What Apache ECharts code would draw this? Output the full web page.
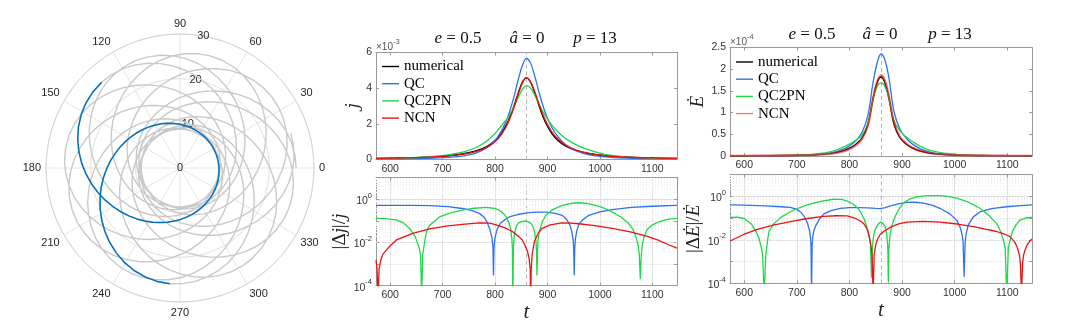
<!DOCTYPE html>
<html><head><meta charset="utf-8">
<script src="https://cdn.jsdelivr.net/npm/echarts@6/dist/echarts.min.js"></script>
<style>html,body{margin:0;padding:0;background:#fff}#c{width:1076px;height:333px}</style>
</head><body><div id="c"></div>
<script>
// ================= DATA =================
// Polar orbit: one radial period (apoapsis -> periapsis -> apoapsis); angle from the apoapsis (deg) and radius
const orbitLoopDphi = [0,6.37,12.75,19.14,25.53,31.93,38.35,44.79,51.25,57.73,64.24,70.77,77.34,83.94,90.58,97.25,103.96,110.71,117.50,
  124.34,131.22,138.14,145.10,152.11,159.16,166.25,173.38,180.55,187.75,194.99,202.26,209.55,216.86,224.19,231.54,238.89,246.25,
  253.61,260.96,268.31,275.64,282.95,290.24,297.51,304.75,311.95,319.12,326.25,333.34,340.39,347.40,354.36,361.28,368.16,375.00,
  381.79,388.54,395.25,401.92,408.56,415.16,421.73,428.26,434.77,441.25,447.71,454.15,460.57,466.97,473.36,479.75,486.13,492.50];
const orbitLoopR = [26.000,25.901,25.611,25.143,24.521,23.773,22.928,22.018,21.070,20.110,19.157,18.227,17.333,16.483,15.682,14.932,14.236,13.592,13.000,
  12.457,11.962,11.510,11.101,10.732,10.400,10.103,9.838,9.604,9.400,9.223,9.072,8.946,8.844,8.766,8.711,8.678,8.667,
  8.678,8.711,8.766,8.844,8.946,9.072,9.223,9.400,9.604,9.838,10.103,10.400,10.732,11.101,11.510,11.962,12.457,13.000,
  13.592,14.236,14.932,15.682,16.483,17.333,18.227,19.157,20.110,21.070,22.018,22.928,23.773,24.521,25.143,25.611,25.901,26.000];
// apoapsis angles of the successive radial periods (deg)
const orbitApoapsis = [0,132.5,265,37.5,170,302.5,75,207.5,340,112.5,245];
const highlightApoapsis = 132.5;
const angleTicks = [0,30,60,90,120,150,180,210,240,270,300,330];
const radiusTicks = [0,10,20,30];

// Time axis
const T_MIN = 573, T_MAX = 1147, T_PERI = 860;
const tTicks = [600,700,800,900,1000,1100];

// Top panels: fluxes
const tTop = [573,620,670,710,740,765,785,800,812,824,835,845,853,860,867,875,885,896,908,920,935,955,980,1010,1050,1100,1147];
// j-dot (x 1e-3)
const jNumerical = [0.060,0.085,0.134,0.211,0.322,0.493,0.743,1.064,1.47,2.09,2.91,3.80,4.38,4.58,4.38,3.80,2.91,2.09,1.47,1.064,0.743,0.493,0.322,0.211,0.134,0.085,0.060];
const jQC        = [0.029,0.042,0.067,0.116,0.206,0.375,0.69,1.075,1.59,2.36,3.40,4.56,5.34,5.67,5.45,4.75,3.65,2.61,1.81,1.28,0.82,0.488,0.264,0.148,0.080,0.045,0.030];
const jQC2PN     = [0.052,0.077,0.141,0.257,0.425,0.685,1.055,1.458,1.88,2.34,2.88,3.53,3.97,4.14,4.03,3.65,3.03,2.45,1.94,1.54,1.17,0.823,0.522,0.291,0.147,0.080,0.052];
const jNCN       = [0.060,0.084,0.129,0.199,0.300,0.454,0.684,0.995,1.39,2.01,2.82,3.73,4.34,4.59,4.38,3.86,3.01,2.20,1.57,1.147,0.802,0.530,0.343,0.222,0.139,0.087,0.060];
const jTicks = [0,2,4,6];
// E-dot (x 1e-4)
const eNumerical = [0.005,0.007,0.011,0.019,0.033,0.06,0.11,0.18,0.27,0.42,0.72,1.33,1.70,1.82,1.70,1.33,0.72,0.42,0.27,0.18,0.11,0.06,0.033,0.019,0.011,0.007,0.005];
const eQC        = [0.003,0.0043,0.0074,0.0158,0.035,0.073,0.141,0.232,0.351,0.546,0.929,1.70,2.16,2.35,2.23,1.80,1.01,0.617,0.41,0.274,0.164,0.082,0.041,0.0196,0.009,0.0047,0.003];
const eQC2PN     = [0.0045,0.0067,0.0122,0.0257,0.053,0.103,0.185,0.274,0.365,0.483,0.749,1.31,1.615,1.684,1.615,1.33,0.806,0.58,0.437,0.333,0.223,0.125,0.066,0.033,0.014,0.007,0.0045];
const eNCN       = [0.005,0.0068,0.0103,0.0173,0.0292,0.0525,0.0963,0.158,0.243,0.395,0.706,1.33,1.72,1.856,1.748,1.377,0.752,0.443,0.288,0.192,0.117,0.064,0.035,0.020,0.0114,0.0071,0.005];
const eTicks = [0,0.5,1,1.5,2,2.5];

// Bottom panels: relative errors [t, value]
const errJ_QC = [[573,0.52],[600,0.515],[640,0.51],[675,0.50],[710,0.45],[738,0.37],[755,0.30],[770,0.22],[780,0.14],[786,0.075],[790,0.04],[794,0.017],[796,0.006],[797,0.0003],[798,0.006],[800,0.017],[804,0.04],[810,0.075],[818,0.11],[827,0.15],[845,0.20],[865,0.24],[880,0.25],[897,0.25],[915,0.22],[928,0.18],[936,0.12],[942,0.07],[946,0.035],[949,0.013],[950,0.005],[951,0.0003],[952,0.005],[953,0.013],[956,0.035],[960,0.07],[967,0.11],[979,0.18],[1000,0.26],[1023,0.33],[1060,0.42],[1100,0.47],[1147,0.52]];
const errJ_QC2PN = [[573,0.13],[590,0.125],[612,0.11],[625,0.08],[637,0.045],[648,0.018],[655,0.006],[658,0.0025],[660,0.00003],[662,0.0025],[665,0.008],[669,0.03],[675,0.06],[694,0.15],[715,0.23],[738,0.31],[760,0.38],[783,0.42],[800,0.37],[808,0.31],[816,0.22],[822,0.14],[827,0.075],[830,0.04],[832,0.015],[833,0.006],[834,0.00003],[835,0.006],[837,0.025],[841,0.06],[846,0.083],[852,0.093],[859,0.096],[866,0.085],[871,0.063],[875,0.035],[878,0.012],[879,0.004],[880,0.0003],[881,0.004],[882,0.012],[884,0.03],[890,0.09],[897,0.18],[910,0.33],[928,0.52],[945,0.63],[960,0.68],[975,0.64],[992,0.52],[1008,0.38],[1024,0.25],[1040,0.15],[1055,0.074],[1063,0.04],[1069,0.018],[1073,0.007],[1075,0.003],[1077,0.0002],[1079,0.003],[1081,0.008],[1084,0.018],[1090,0.04],[1100,0.065],[1115,0.095],[1130,0.12],[1147,0.13]];
const errJ_NCN = [[573,0.0015],[575,0.0006],[577,0.00003],[579,0.0006],[582,0.0015],[586,0.0028],[593,0.0045],[600,0.007],[612,0.013],[643,0.026],[675,0.042],[710,0.058],[738,0.068],[770,0.08],[790,0.078],[802,0.065],[818,0.048],[833,0.032],[845,0.019],[852,0.013],[858,0.0065],[862,0.0037],[865,0.0018],[867,0.0006],[868,0.00003],[869,0.0006],[871,0.003],[875,0.011],[882,0.026],[890,0.045],[905,0.065],[928,0.08],[945,0.078],[960,0.073],[990,0.06],[1024,0.045],[1060,0.03],[1087,0.02],[1110,0.013],[1130,0.008],[1147,0.0054]];
const errE_QC = [[573,0.40],[600,0.39],[640,0.36],[670,0.33],[688,0.31],[700,0.25],[707,0.19],[714,0.12],[720,0.06],[724,0.028],[726,0.012],[727,0.005],[728,0.00003],[729,0.005],[730,0.012],[732,0.024],[736,0.045],[743,0.09],[751,0.15],[765,0.22],[783,0.28],[800,0.30],[815,0.30],[835,0.29],[850,0.275],[859,0.27],[868,0.30],[878,0.36],[893,0.45],[909,0.52],[925,0.53],[941,0.48],[958,0.38],[972,0.28],[990,0.16],[1004,0.08],[1010,0.04],[1014,0.018],[1016,0.008],[1018,0.0002],[1020,0.008],[1022,0.02],[1026,0.048],[1035,0.11],[1048,0.19],[1070,0.27],[1099,0.33],[1125,0.37],[1147,0.40]];
const errE_QC2PN = [[573,0.107],[587,0.11],[600,0.095],[613,0.055],[622,0.025],[628,0.012],[632,0.005],[635,0.002],[638,0.00003],[641,0.002],[644,0.008],[647,0.024],[655,0.05],[670,0.11],[695,0.24],[720,0.40],[745,0.58],[770,0.73],[785,0.72],[796,0.60],[808,0.42],[815,0.30],[821,0.19],[828,0.09],[833,0.04],[837,0.017],[840,0.006],[842,0.00018],[844,0.006],[846,0.015],[849,0.03],[854,0.05],[859,0.065],[864,0.055],[868,0.04],[871,0.018],[873,0.004],[874,0.00011],[875,0.004],[877,0.015],[881,0.048],[885,0.09],[890,0.17],[896,0.30],[903,0.50],[915,0.75],[928,0.93],[941,1.05],[955,1.08],[972,1.07],[990,0.96],[1004,0.82],[1025,0.55],[1048,0.28],[1065,0.13],[1080,0.055],[1088,0.022],[1093,0.009],[1096,0.004],[1099,0.00003],[1102,0.004],[1105,0.0086],[1110,0.025],[1117,0.05],[1124,0.08],[1135,0.10],[1147,0.108]];
const errE_NCN = [[573,0.0088],[600,0.018],[625,0.03],[655,0.047],[688,0.068],[720,0.095],[751,0.12],[775,0.127],[796,0.125],[810,0.10],[820,0.075],[827,0.056],[834,0.03],[838,0.013],[841,0.005],[843,0.002],[845,0.00003],[847,0.002],[850,0.006],[853,0.01],[858,0.017],[865,0.024],[880,0.04],[895,0.055],[909,0.065],[940,0.07],[972,0.065],[1005,0.053],[1036,0.04],[1060,0.03],[1080,0.024],[1095,0.018],[1105,0.014],[1114,0.008],[1119,0.0045],[1123,0.002],[1125,0.0008],[1127,0.00003],[1129,0.0008],[1131,0.002],[1134,0.0035],[1138,0.006],[1143,0.0088],[1147,0.011]];
const logTickExp = [-4,-2,0];

// ================= STYLE =================
const C_NUM = '#000000', C_QC = '#2f72f0', C_PN = '#1ed848', C_NCN = '#ee1111';
const AXC = '#9a9a9a', LBL = '#333333';
const SANS = 'Liberation Sans', SERIF = 'Liberation Serif', DSERIF = 'DejaVu Serif';

// ================= BUILD =================
const grids = [
  {left:376, top:52.5, width:301, height:107},
  {left:376, top:177.5, width:301, height:108.2},
  {left:730, top:47.5, width:302, height:108.5},
  {left:730, top:174.5, width:302, height:108.8}
].map(g => Object.assign({outerBoundsMode:'none', containLabel:false}, g));

const xAxes = [], yAxes = [];
function addX(g, isBottom, nameGap) {
  xAxes.push({
    gridIndex:g, type:'value', min:T_MIN, max:T_MAX, position:'bottom',
    axisLine:{show:true, onZero:false, lineStyle:{color:AXC}},
    axisTick:{show:true, inside:true, length:3, lineStyle:{color:AXC}},
    axisLabel:{margin:4, color:LBL, fontSize:10.5, fontFamily:SANS, formatter:v => tTicks.includes(Math.round(v)) ? String(Math.round(v)) : ''},
    splitLine:{show:isBottom, lineStyle:{color:'#e3e3e3'}},
    name: isBottom ? 't' : '', nameLocation:'middle', nameGap: nameGap,
    nameTextStyle:{fontFamily:SERIF, fontStyle:'italic', fontSize:21, color:'#222'}
  });
  xAxes.push({
    gridIndex:g, type:'value', min:T_MIN, max:T_MAX, position:'top',
    axisLine:{show:true, onZero:false, lineStyle:{color:AXC}},
    axisTick:{show:true, inside:true, length:3, lineStyle:{color:AXC}},
    axisLabel:{show:false}, splitLine:{show:false}
  });
}
const supRich = {
  b:{fontSize:10.5, fontFamily:SANS, color:LBL, lineHeight:12, verticalAlign:'bottom'},
  s:{fontSize:7.5, fontFamily:SANS, color:LBL, verticalAlign:'top', padding:[0,0,7,0]}
};
const nameRich = {
  u:{fontFamily:SERIF, fontSize:19, color:'#222'},
  i:{fontFamily:SERIF, fontStyle:'italic', fontSize:19, color:'#222'},
  j:{fontFamily:DSERIF, fontStyle:'italic', fontSize:17, color:'#222'}
};
function addYLin(g, max, interval, ticks, name, nameGap) {
  yAxes.push({
    gridIndex:g, type:'value', min:0, max:max, interval:interval, position:'left',
    axisLine:{show:true, onZero:false, lineStyle:{color:AXC}},
    axisTick:{show:true, inside:true, length:3, lineStyle:{color:AXC}},
    axisLabel:{margin:4, color:LBL, fontSize:10.5, fontFamily:SANS, formatter:v => ticks.includes(v) ? String(v) : ''},
    splitLine:{show:false},
    name:name, nameLocation:'middle', nameRotate:90, nameGap:nameGap,
    nameTextStyle:{rich:nameRich}
  });
  yAxes.push({
    gridIndex:g, type:'value', min:0, max:max, interval:interval, position:'right',
    axisLine:{show:true, onZero:false, lineStyle:{color:AXC}},
    axisTick:{show:true, inside:true, length:3, lineStyle:{color:AXC}},
    axisLabel:{show:false}, splitLine:{show:false}
  });
}
function addYLog(g, name, nameGap) {
  yAxes.push({
    gridIndex:g, type:'log', logBase:10, min:1e-4, max:10, position:'left',
    axisLine:{show:true, onZero:false, lineStyle:{color:AXC}},
    axisTick:{show:true, inside:true, length:3, lineStyle:{color:AXC}},
    axisLabel:{margin:4, formatter:v => {
      const e = Math.round(Math.log10(v));
      return logTickExp.includes(e) ? '{b|10}{s|' + e + '}' : '';
    }, rich:supRich},
    splitLine:{show:true, lineStyle:{color:['#dedede','#efefef']}},
    name:name, nameLocation:'middle', nameRotate:90, nameGap:nameGap,
    nameTextStyle:{rich:nameRich}
  });
  yAxes.push({
    gridIndex:g, type:'log', logBase:10, min:1e-4, max:10, position:'right',
    axisLine:{show:true, onZero:false, lineStyle:{color:AXC}},
    axisTick:{show:true, inside:true, length:3, lineStyle:{color:AXC}},
    axisLabel:{show:false}, splitLine:{show:false}
  });
}
const JD = 'j\u0307', ED = '\u0116';
addX(0,false,0); addYLin(0, 6, 2, jTicks, '{j|' + JD + '}', 12);
addX(1,true,15); addYLog(1, '{u||\u0394}{j|' + JD + '}{u||/}{j|' + JD + '}', 22);
addX(2,false,0); addYLin(2, 2.5, 0.5, eTicks, '{i|' + ED + '}', 19);
addX(3,true,17); addYLog(3, '{u||\u0394}{i|' + ED + '}{u||/}{i|' + ED + '}', 24);

const series = [];
function lineS(g, name, data, color, extra) {
  series.push(Object.assign({
    type:'line', name:name, xAxisIndex:2*g, yAxisIndex:2*g, data:data,
    symbol:'none', showSymbol:false, smooth:false, silent:true,
    lineStyle:{color:color, width:1.3}, itemStyle:{color:color}, z:3
  }, extra || {}));
}
const pair = (ts, vs) => ts.map((t,i) => [t, vs[i]]);
// guide lines (dashed periapsis line + log minor grid)
function guides(g, isLog) {
  const d = [{xAxis:T_PERI, lineStyle:{color:'#b5b5b5', type:[4,3], width:1}}];
  if (isLog) {
    for (let e = -4; e < 1; e++) for (let m = 2; m <= 9; m++)
      d.push({yAxis: m * Math.pow(10, e), lineStyle:{color:'#ededed', type:[1,2], width:1}});
  }
  series.push({
    type:'line', xAxisIndex:2*g, yAxisIndex:2*g, data:[[T_PERI, isLog ? 1e-9 : -100]],
    symbol:'none', lineStyle:{width:0}, silent:true, z:1,
    markLine:{silent:true, symbol:'none', label:{show:false}, animation:false, z:1, data:d}
  });
}
guides(0,false); guides(1,true); guides(2,false); guides(3,true);

lineS(0,'numerical', pair(tTop,jNumerical), C_NUM, {smooth:0.4});
lineS(0,'QC', pair(tTop,jQC), C_QC, {smooth:0.4});
lineS(0,'QC2PN', pair(tTop,jQC2PN), C_PN, {smooth:0.4});
lineS(0,'NCN', pair(tTop,jNCN), C_NCN, {smooth:0.4});
lineS(1,'QC', errJ_QC, C_QC);
lineS(1,'QC2PN', errJ_QC2PN, C_PN);
lineS(1,'NCN', errJ_NCN, C_NCN);
lineS(2,'numerical', pair(tTop,eNumerical), C_NUM, {smooth:0.4});
lineS(2,'QC', pair(tTop,eQC), C_QC, {smooth:0.4});
lineS(2,'QC2PN', pair(tTop,eQC2PN), C_PN, {smooth:0.4});
lineS(2,'NCN', pair(tTop,eNCN), C_NCN, {smooth:0.4, lineStyle:{color:C_NCN, width:2.2, opacity:0.6}});
lineS(3,'QC', errE_QC, C_QC);
lineS(3,'QC2PN', errE_QC2PN, C_PN);
lineS(3,'NCN', errE_NCN, C_NCN);

// polar orbit: each radial period is the read loop, placed at its read apoapsis angle
function loopPoints(apo, skipFirst) {
  const pts = [];
  orbitLoopDphi.forEach((d,i) => { if (!(skipFirst && i === 0)) pts.push([orbitLoopR[i], apo + d]); });
  return pts;
}
let orbitData = [];
orbitApoapsis.forEach((a,k) => { orbitData = orbitData.concat(loopPoints(a, k > 0)); });
series.push({type:'line', coordinateSystem:'polar', polarIndex:0, data:orbitData, symbol:'none', showSymbol:false,
  smooth:false, silent:true, lineStyle:{color:'#c9c9c9', width:1.4}, z:2});
series.push({type:'line', coordinateSystem:'polar', polarIndex:0, data:loopPoints(highlightApoapsis,false), symbol:'none',
  showSymbol:false, smooth:false, silent:true, lineStyle:{color:'#0072BD', width:1.5}, z:3});

const LEG_ICON = 'path://M0,0 M17,14 M0,6.3 L17,6.3 L17,7.7 L0,7.7 Z';
const legendBase = {
  orient:'vertical', itemWidth:17, itemHeight:14, itemGap:2.2, selectedMode:false, icon:LEG_ICON, padding:0,
  textStyle:{fontFamily:SERIF, fontSize:15, color:'#000'}
};
const legends = [
  Object.assign({left:382, top:59, data:['numerical','QC','QC2PN','NCN']}, legendBase),
  Object.assign({left:736, top:54.5, data:['numerical','QC','QC2PN',
    {name:'NCN', itemStyle:{color:'#f08080'}}]}, legendBase)
];

const tRich = {
  i:{fontFamily:SERIF, fontStyle:'italic', fontSize:17, fill:'#111', color:'#111'},
  u:{fontFamily:SERIF, fontSize:17, fill:'#111', color:'#111'}
};
function ttl(x, y, text) {
  return {type:'text', x:x, y:y, silent:true,
    style:{text:text, align:'center', verticalAlign:'middle', rich:tRich, fill:'#111', font:'17px "Liberation Serif"'}};
}
function expo(x, y, e) {
  return {type:'text', x:x, y:y, silent:true,
    style:{text:'{b|\u00d710}{s|' + e + '}', align:'left', verticalAlign:'middle',
      rich:{b:{fontFamily:SANS, fontSize:10, fill:'#555', color:'#555', lineHeight:12, verticalAlign:'bottom'},
            s:{fontFamily:SANS, fontSize:7.5, fill:'#555', color:'#555', verticalAlign:'top', padding:[0,0,7,0]}}}};
}
const graphics = [
  ttl(458,39,'{i|e}{u| = 0.5}'), ttl(527,39,'{i|\u00e2}{u| = 0}'), ttl(595,39,'{i|p}{u| = 13}'),
  ttl(812,35,'{i|e}{u| = 0.5}'), ttl(880,35,'{i|\u00e2}{u| = 0}'), ttl(950,35,'{i|p}{u| = 13}'),
  expo(376,45,'-3'), expo(730,40,'-4')
];

const option = {
  animation:false, backgroundColor:'#ffffff',
  polar:[{center:[180,168], radius:134}, {center:[180,168], radius:134}],
  angleAxis:[
    {polarIndex:0, type:'value', min:0, max:360, interval:30, startAngle:0, clockwise:false,
     axisLine:{show:true, lineStyle:{color:'#d6d6d6'}}, axisTick:{show:false},
     axisLabel:{margin:5, color:'#262626', fontSize:11, fontFamily:SANS, formatter:v => angleTicks.includes(v) ? String(v) : ''},
     splitLine:{show:true, lineStyle:{color:'#e6e6e6'}}},
    {polarIndex:1, type:'value', min:0, max:360, interval:30, startAngle:80, clockwise:false, show:false}
  ],
  radiusAxis:[
    {polarIndex:0, type:'value', min:0, max:30, interval:10, axisLine:{show:false}, axisTick:{show:false},
     axisLabel:{show:false}, splitLine:{show:true, lineStyle:{color:'#e0e0e0'}}},
    {polarIndex:1, type:'value', min:0, max:30, interval:10, axisLine:{show:false}, axisTick:{show:false},
     splitLine:{show:false},
     axisLabel:{show:true, margin:0, align:'center', verticalAlign:'middle', color:'#262626', fontSize:11, fontFamily:SANS,
       formatter:v => radiusTicks.includes(v) ? String(v) : ''}}
  ],
  grid:grids, xAxis:xAxes, yAxis:yAxes, legend:legends, series:series, graphic:graphics
};
const chart = echarts.init(document.getElementById('c'), null, {renderer:'canvas'});
chart.setOption(option);
</script></body></html>
